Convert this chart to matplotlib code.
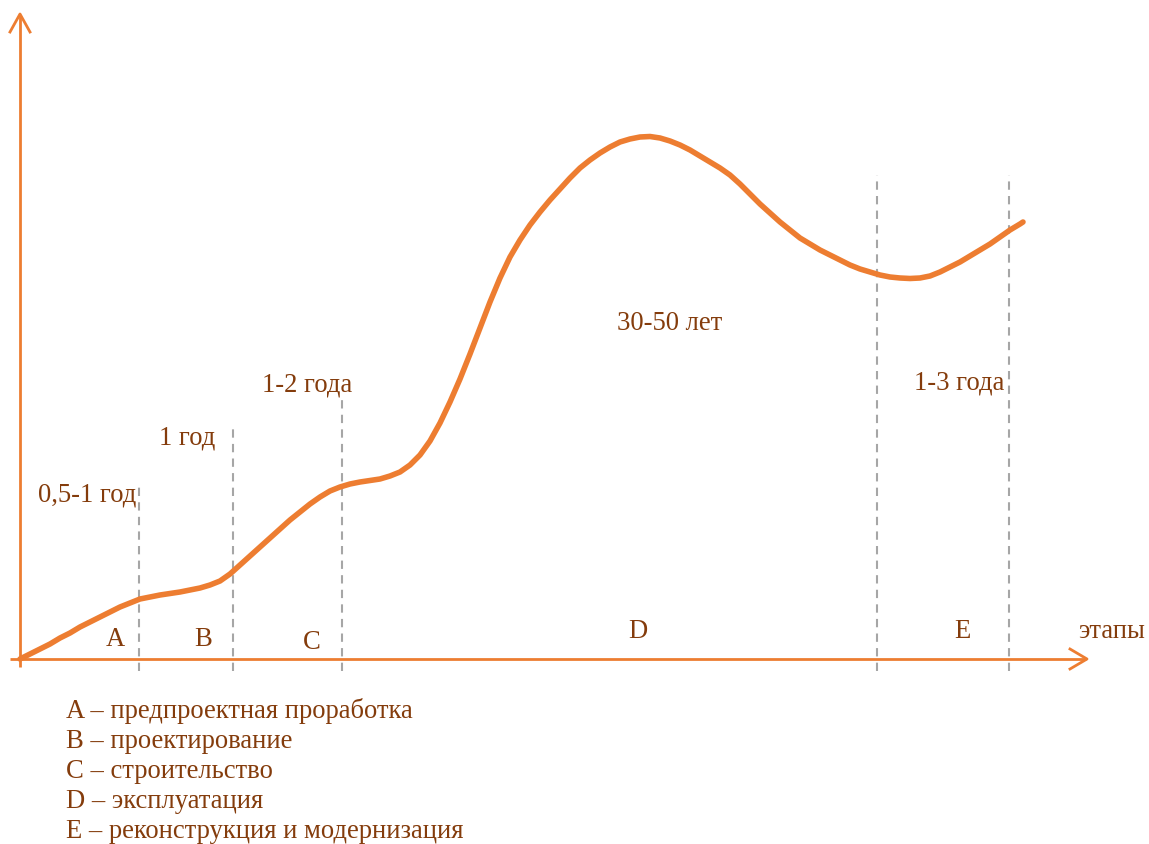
import matplotlib
matplotlib.use("Agg")
import matplotlib.pyplot as plt

# Curve: x (px from origin), height above baseline (px)
curve_x = list(range(0, 1001, 10)) + [1003]
curve_y = [0, 5, 10, 15, 21, 26, 32, 37, 42, 47,
           52, 56, 60, 62, 64, 65.5, 67, 69, 71, 74,
           78, 85, 94, 103, 112, 121, 130, 139, 147, 155,
           162, 168, 172, 175, 177, 178.5, 180, 183, 187, 194,
           204, 218, 236, 257, 280, 305, 331, 357, 381, 402,
           419, 434, 447, 459, 470, 481, 491, 499, 506, 512,
           517, 520, 522, 522.5, 521, 518, 514, 509, 503, 497,
           491, 484, 475, 465, 455, 446, 437, 429, 421, 415,
           409, 404, 399, 394, 390, 387, 384, 382, 381, 380.5,
           381, 383, 387, 392, 397, 403, 409, 415, 422, 429,
           435, 437]

# Stage boundaries (px from origin) and tops of dashed lines
bound_x = [119, 213, 322, 857, 989]
bound_top = [172, 230, 262, 484, 484]

duration_labels = ["0,5-1 год", "1 год", "1-2 года", "30-50 лет", "1-3 года"]
duration_pos = [(67, 165), (167, 222), (287, 275), (650, 337), (939, 277)]

stage_letters = ["A", "B", "C", "D", "E"]
stage_pos = [(95, 20), (183, 20), (292, 17), (618, 28), (942, 28)]

legend_lines = ["A – предпроектная проработка", "B – проектирование",
                "C – строительство", "D – эксплуатация",
                "E – реконструкция и модернизация"]

ORANGE = "#ED7D31"
BROWN = "#843C0C"
GRAY = "#A6A6A6"

W, H = 1149, 845
fig = plt.figure(figsize=(W / 100, H / 100), dpi=100)
ax = fig.add_axes([0, 0, 1, 1])
ox, oy = 20, 660  # origin in pixel coords
ax.set_xlim(-ox, W - ox)
ax.set_ylim(-(H - oy), oy)
ax.axis("off")

plt.rcParams['font.family'] = ['Liberation Serif', 'DejaVu Serif']
fs = 19.2

# axes with arrows
ax.plot([0, 0], [-8, 644], color=ORANGE, lw=2, solid_capstyle='butt')
ax.plot([-10, 1066], [0, 0], color=ORANGE, lw=2, solid_capstyle='butt')
ax.plot([-10, 0, 10], [627, 645, 627], color=ORANGE, lw=2)
ax.plot([1050, 1067, 1050], [10, 0, -10], color=ORANGE, lw=2)

# dashed boundaries
for bx, bt in zip(bound_x, bound_top):
    ax.plot([bx, bx], [-12, bt], color=GRAY, lw=1.5, ls=(0, (4, 3)))

# curve
ax.plot(curve_x, curve_y, color=ORANGE, lw=4, solid_capstyle='round',
        solid_joinstyle='round')

for t, (x, y) in zip(duration_labels, duration_pos):
    ax.text(x, y, t, color=BROWN, fontsize=fs, ha='center', va='center')
for t, (x, y) in zip(stage_letters, stage_pos):
    ax.text(x, y, t, color=BROWN, fontsize=fs, ha='center', va='center')
ax.text(1092, 28, "этапы", color=BROWN, fontsize=fs, ha='center', va='center')

for i, t in enumerate(legend_lines):
    ax.text(46, -51 - 30.2 * i, t, color=BROWN, fontsize=fs, ha='left', va='center')

fig.savefig("out.png", dpi=100)
